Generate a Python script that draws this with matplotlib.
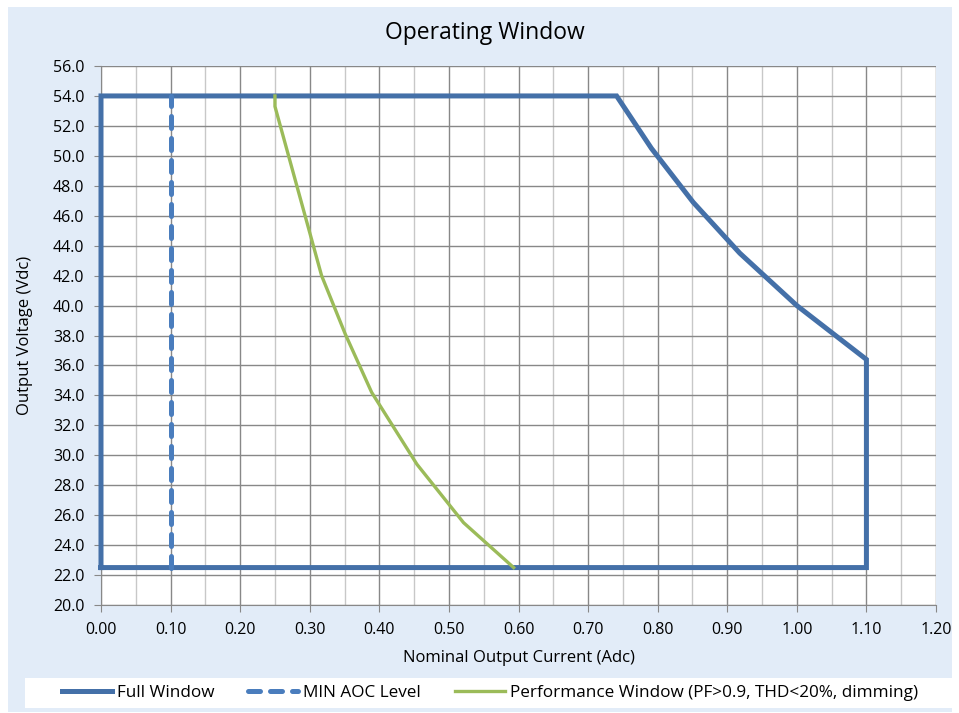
import matplotlib
matplotlib.use("Agg")
import matplotlib.pyplot as plt
from matplotlib.patches import Rectangle
from matplotlib.ticker import MultipleLocator, FormatStrFormatter

plt.rcParams['font.family'] = ['Open Sans', 'DejaVu Sans']

# data
full_x = [0.0, 0.0, 0.741, 0.791, 0.851, 0.918, 1.0, 1.10, 1.10, 0.0]
full_y = [22.5, 54.0, 54.0, 50.5, 46.9, 43.5, 40.0, 36.4, 22.5, 22.5]

aoc_x = [0.10, 0.10]
aoc_y = [22.5, 54.0]

perf_x = [0.25, 0.25, 0.317, 0.351, 0.389, 0.454, 0.521, 0.593]
perf_y = [54.0, 53.3, 42.0, 38.1, 34.2, 29.4, 25.5, 22.5]

blue = '#4470a8'
blue_dash = '#4a7dbd'
green = '#9bbb59'
bg = '#e2ecf8'

fig = plt.figure(figsize=(9.59, 7.13), dpi=100)
fig.patch.set_facecolor('white')
fig.patches.append(Rectangle((8 / 959, 1 / 713), 944 / 959, 705 / 713,
                             transform=fig.transFigure, facecolor=bg,
                             edgecolor='none', zorder=-10))

ax = fig.add_axes([101 / 959, 108 / 713, 835 / 959, 539 / 713])
ax.set_facecolor('white')

ax.plot(full_x, full_y, color=blue, lw=3.6, solid_joinstyle='miter',
        clip_on=False, label='Full Window', zorder=3)
ax.plot(aoc_x, aoc_y, color=blue_dash, lw=3.6, linestyle=(0, (2.4, 2.0)),
        dash_capstyle='round', clip_on=False, label='MIN AOC Level', zorder=3)
ax.plot(perf_x, perf_y, color=green, lw=2.4, clip_on=False,
        label='Performance Window (PF>0.9, THD<20%, dimming)', zorder=4)

ax.set_xlim(0, 1.2)
ax.set_ylim(20, 56)
ax.xaxis.set_major_locator(MultipleLocator(0.1))
ax.xaxis.set_minor_locator(MultipleLocator(0.05))
ax.yaxis.set_major_locator(MultipleLocator(2))
ax.xaxis.set_major_formatter(FormatStrFormatter('%.2f'))
ax.yaxis.set_major_formatter(FormatStrFormatter('%.1f'))

ax.grid(which='major', color='#888888', lw=1.0)
ax.grid(which='minor', axis='x', color='#c8c8c8', lw=1.0)
ax.set_axisbelow(True)
for s in ['top', 'right']:
    ax.spines[s].set_visible(False)
for s in ['left', 'bottom']:
    ax.spines[s].set_color('#888888')
ax.tick_params(which='major', direction='out', length=5, color='#888888',
               labelsize=11.5, pad=7)
ax.tick_params(which='minor', length=0)

fig.text(485 / 959, 1 - 33 / 713, 'Operating Window', fontsize=16.5,
         ha='center', va='center')
ax.set_xlabel('Nominal Output Current (Adc)', fontsize=12, labelpad=9)
ax.set_ylabel('Output Voltage (Vdc)', fontsize=12, labelpad=14)

fig.patches.append(Rectangle((25 / 959, 5 / 713), 927 / 959, 30 / 713,
                             transform=fig.transFigure, facecolor='white',
                             edgecolor='none', zorder=-5))
leg = fig.legend(loc='center', bbox_to_anchor=(490 / 959, 20 / 713), ncol=3,
                 frameon=False, fontsize=12.3, handlelength=2.9,
                 columnspacing=2.0, handletextpad=0.3)

fig.savefig('out.png', dpi=100, facecolor=fig.get_facecolor())
